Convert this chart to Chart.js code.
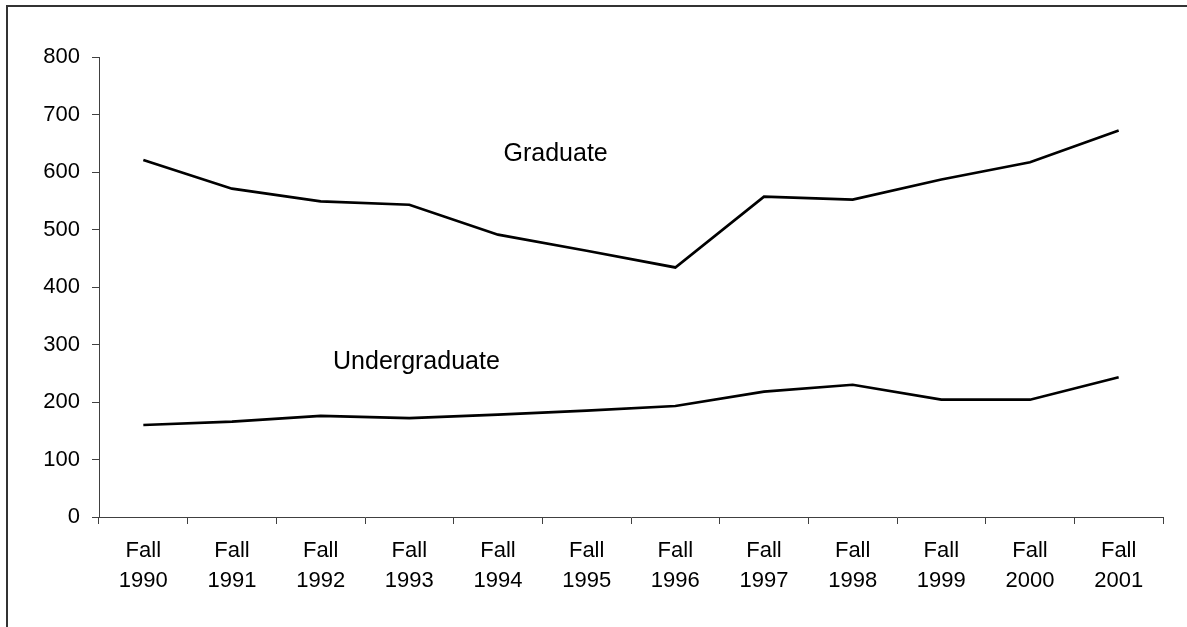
<!DOCTYPE html>
<html>
<head>
<meta charset="utf-8">
<script src="https://cdn.jsdelivr.net/npm/chart.js@4/dist/chart.umd.min.js"></script>
<style>
  html, body { margin: 0; padding: 0; background: #fff; overflow: hidden; }
  #wrap { position: relative; width: 1187px; height: 627px; }
</style>
</head>
<body>
<div id="wrap"><canvas id="myChart" width="1187" height="627"></canvas></div>
<script>
// Chart data
const categories = [
  ["Fall", "1990"], ["Fall", "1991"], ["Fall", "1992"], ["Fall", "1993"],
  ["Fall", "1994"], ["Fall", "1995"], ["Fall", "1996"], ["Fall", "1997"],
  ["Fall", "1998"], ["Fall", "1999"], ["Fall", "2000"], ["Fall", "2001"],
];
const graduate = [621, 571, 549, 543, 491, 463, 434, 557, 552, 587, 617, 672];
const undergraduate = [160, 166, 176, 172, 178, 185, 193, 218, 230, 204, 204, 243];

// Series labels written inside the plot (category position, value)
const seriesNames = ["Graduate", "Undergraduate"];
const nameAtIndex = [4.65, 3.08];
const nameAtValue = [631, 270];

const fontFamily = 'Arial, "Liberation Sans", sans-serif';
const axisColor = "#404040";

// Draws the outer frame and the series names
const extrasPlugin = {
  id: "extras",
  beforeDraw(chart) {
    const c = chart.ctx;
    c.save();
    c.fillStyle = "#fff";
    c.fillRect(0, 0, chart.width, chart.height);
    c.strokeStyle = "#333";
    c.lineWidth = 2;
    c.strokeRect(7, 6, chart.width + 20, chart.height + 20);
    c.restore();
  },
  afterDatasetsDraw(chart) {
    const c = chart.ctx;
    const xs = chart.scales.x;
    const ys = chart.scales.y;
    c.save();
    c.fillStyle = "#000";
    c.font = "25px " + fontFamily;
    c.textAlign = "center";
    c.textBaseline = "middle";
    seriesNames.forEach((name, i) => {
      c.fillText(name, xs.getPixelForValue(nameAtIndex[i]), ys.getPixelForValue(nameAtValue[i]));
    });
    c.restore();
  },
};

const ctx = document.getElementById("myChart").getContext("2d");
const chart = new Chart(ctx, {
  type: "line",
  data: {
    labels: categories,
    datasets: [
      {
        label: seriesNames[0],
        data: graduate,
        borderColor: "#000",
        borderWidth: 2.7,
        pointRadius: 0,
        tension: 0,
      },
      {
        label: seriesNames[1],
        data: undergraduate,
        borderColor: "#000",
        borderWidth: 2.7,
        pointRadius: 0,
        tension: 0,
      },
    ],
  },
  options: {
    responsive: false,
    animation: false,
    layout: { padding: { left: 0, right: 24, top: 57, bottom: 0 } },
    plugins: {
      legend: { display: false },
      tooltip: { enabled: false },
    },
    scales: {
      x: {
        offset: true,
        grid: {
          offset: true,
          drawOnChartArea: false,
          drawTicks: true,
          tickLength: 7,
          color: axisColor,
        },
        border: { color: axisColor, width: 1 },
        ticks: {
          color: "#000",
          maxRotation: 0,
          autoSkip: false,
          padding: 12,
          font: { family: fontFamily, size: 22, lineHeight: 1.36 },
        },
        afterFit(scale) {
          scale.height = 110;
        },
      },
      y: {
        min: 0,
        max: 800,
        grid: {
          drawOnChartArea: false,
          drawTicks: true,
          tickLength: 7,
          color: axisColor,
        },
        border: { color: axisColor, width: 1 },
        ticks: {
          stepSize: 100,
          color: "#000",
          padding: 12,
          font: { family: fontFamily, size: 22 },
        },
        afterFit(scale) {
          scale.width = 99;
        },
      },
    },
  },
  plugins: [extrasPlugin],
});
</script>
</body>
</html>
